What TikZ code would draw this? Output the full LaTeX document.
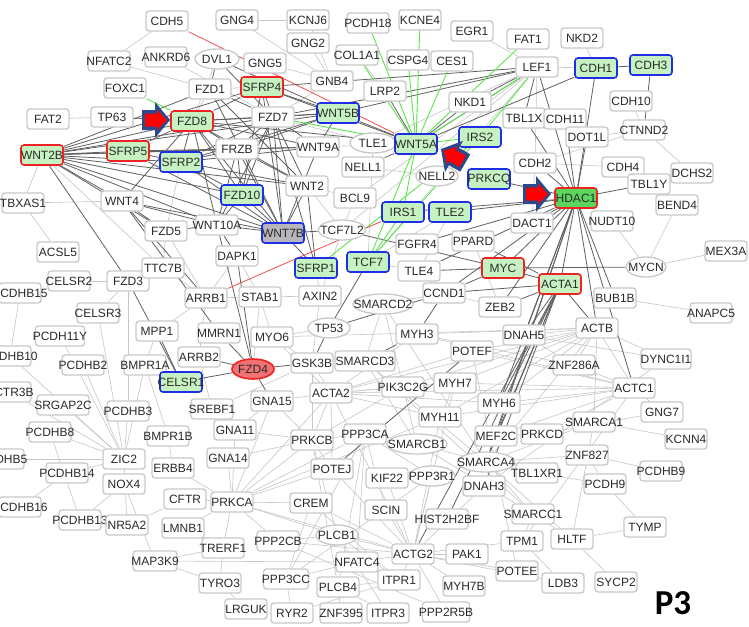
\documentclass[tikz,border=0pt]{standalone}
\usepackage{fontspec}
\setmainfont{Liberation Sans}
\newfontfamily\pfont{Carlito}
\usetikzlibrary{shapes.geometric}
\definecolor{nbord}{HTML}{C8C8C8}
\definecolor{ltxt}{HTML}{2A2A2A}
\definecolor{hgreen}{HTML}{C6F2C2}
\definecolor{hred}{HTML}{EE2222}
\definecolor{hblue}{HTML}{1E2EE6}
\definecolor{hdacg}{HTML}{5CD65C}
\definecolor{wgray}{HTML}{B6B6BC}
\definecolor{fzred}{HTML}{F07272}
\definecolor{elight}{HTML}{C6C6C6}
\definecolor{edark}{HTML}{606060}
\definecolor{egreen}{HTML}{5BE64A}
\definecolor{ered}{HTML}{F25050}
\definecolor{arblue}{HTML}{2B4A8E}
\definecolor{arred}{HTML}{FF0000}
\pgfdeclarelayer{bg}
\pgfsetlayers{bg,main}
\newcommand\gtx[1]{\makebox[0pt]{#1}}
\newcommand\pointer[3]{%
  \begin{scope}[shift={(#1,#2)},rotate=#3]
    \fill[arblue] (0,0) -- (-15,-18) -- (-15,-10) -- (-28,-10) -- (-28,10) -- (-15,10) -- (-15,18) -- cycle;
    \fill[arred] (-3,0) -- (-13,-10) -- (-13,-6.5) -- (-25,-6.5) -- (-25,6.5) -- (-13,6.5) -- (-13,10) -- cycle;
  \end{scope}}
\tikzset{
  nb/.style={draw=nbord, line width=1.3pt, rounded corners=3pt, fill=white,
    minimum width=42pt, minimum height=20pt, inner sep=0pt, text=ltxt,
    font=\fontsize{12}{12}\selectfont},
  ne/.style={nb, ellipse, sharp corners, minimum width=44pt},
  hr/.style={nb, draw=hred, fill=hgreen, line width=1.6pt},
  hb/.style={nb, draw=hblue, fill=hgreen, line width=1.6pt},
  le/.style={draw=elight, line width=0.6pt},
  de/.style={draw=edark, line width=0.8pt},
  ge/.style={draw=egreen, line width=0.9pt},
  re/.style={draw=ered, line width=0.8pt}
}
\begin{document}
\begin{tikzpicture}[x=1pt,y=-1pt]
\begin{pgfonlayer}{bg}
\fill[white] (0,0) rectangle (749,626);
\end{pgfonlayer}
\useasboundingbox (0,0) rectangle (749,626);
% ---------- nodes ----------
\node[nb] (CDH5) at (167,21) {\gtx{CDH5}};
\node[nb] (GNG4) at (237,20) {\gtx{GNG4}};
\node[nb] (KCNJ6) at (308,20) {\gtx{KCNJ6}};
\node[nb] (PCDH18) at (368,23) {\gtx{PCDH18}};
\node[nb] (KCNE4) at (420,20) {\gtx{KCNE4}};
\node[nb] (EGR1) at (472,31) {\gtx{EGR1}};
\node[nb] (FAT1) at (528,39) {\gtx{FAT1}};
\node[nb] (NKD2) at (582,38) {\gtx{NKD2}};
\node[nb] (NFATC2) at (109,61) {\gtx{NFATC2}};
\node[nb] (ANKRD6) at (166,57) {\gtx{ANKRD6}};
\node[ne] (DVL1) at (217,59) {\gtx{DVL1}};
\node[nb] (GNG5) at (265,63) {\gtx{GNG5}};
\node[nb] (GNG2) at (308,43) {\gtx{GNG2}};
\node[nb] (COL1A1) at (357,55) {\gtx{COL1A1}};
\node[nb] (CSPG4) at (408,60) {\gtx{CSPG4}};
\node[nb] (CES1) at (452,61) {\gtx{CES1}};
\node[nb] (LEF1) at (537,67) {\gtx{LEF1}};
\node[hb] (CDH1) at (596,68) {\gtx{CDH1}};
\node[hb] (CDH3) at (651,65) {\gtx{CDH3}};
\node[nb] (FOXC1) at (125,88) {\gtx{FOXC1}};
\node[nb] (FZD1) at (210,89) {\gtx{FZD1}};
\node[hr] (SFRP4) at (262,87) {\gtx{SFRP4}};
\node[nb] (GNB4) at (332,81) {\gtx{GNB4}};
\node[nb] (LRP2) at (385,91) {\gtx{LRP2}};
\node[nb] (NKD1) at (470,102) {\gtx{NKD1}};
\node[nb] (CDH10) at (631,101) {\gtx{CDH10}};
\node[nb] (FAT2) at (48,119) {\gtx{FAT2}};
\node[nb] (TP63) at (112,117) {\gtx{TP63}};
\node[hr] (FZD8) at (192,121) {\gtx{FZD8}};
\node[nb] (FZD7) at (273,117) {\gtx{FZD7}};
\node[hb] (WNT5B) at (338,113) {\gtx{WNT5B}};
\node[nb] (TBL1X) at (524,118) {\gtx{TBL1X}};
\node[nb] (CDH11) at (565,119) {\gtx{CDH11}};
\node[nb] (CTNND2) at (644,130) {\gtx{CTNND2}};
\node[ne, minimum width=46pt] (TLE1) at (373,143) {\gtx{TLE1}};
\node[hb] (WNT5A) at (416,144) {\gtx{WNT5A}};
\node[hb] (IRS2) at (480,137) {\gtx{IRS2}};
\node[nb] (DOT1L) at (587,137) {\gtx{DOT1L}};
\node[hr] (WNT2B) at (42,155) {\gtx{WNT2B}};
\node[hr] (SFRP5) at (128,151) {\gtx{SFRP5}};
\node[nb] (FRZB) at (237,149) {\gtx{FRZB}};
\node[nb] (WNT9A) at (318,147) {\gtx{WNT9A}};
\node[hb] (SFRP2) at (181,162) {\gtx{SFRP2}};
\node[nb] (NELL1) at (363,167) {\gtx{NELL1}};
\node[ne, minimum width=42pt] (NELL2) at (437,176) {\gtx{NELL2}};
\node[nb] (CDH2) at (535,163) {\gtx{CDH2}};
\node[nb] (CDH4) at (623,167) {\gtx{CDH4}};
\node[nb] (DCHS2) at (692,173) {\gtx{DCHS2}};
\node[hb] (PRKCQ) at (489,179) {\gtx{PRKCQ}};
\node[nb] (TBL1Y) at (649,184) {\gtx{TBL1Y}};
\node[nb] (WNT2) at (307,186) {\gtx{WNT2}};
\node[hb] (FZD10) at (242,195) {\gtx{FZD10}};
\node[nb] (BCL9) at (355,198) {\gtx{BCL9}};
\node[hr, fill=hdacg] (HDAC1) at (576,198) {\gtx{HDAC1}};
\node[nb] (WNT4) at (122,201) {\gtx{WNT4}};
\node[nb] (TBXAS1) at (23,203) {\gtx{TBXAS1}};
\node[nb] (BEND4) at (677,205) {\gtx{BEND4}};
\node[hb] (IRS1) at (403,212) {\gtx{IRS1}};
\node[hb] (TLE2) at (450,212) {\gtx{TLE2}};
\node[nb] (NUDT10) at (612,221) {\gtx{NUDT10}};
\node[nb] (DACT1) at (532,223) {\gtx{DACT1}};
\node[nb] (WNT10A) at (217,225) {\gtx{WNT10A}};
\node[nb] (FZD5) at (166,231) {\gtx{FZD5}};
\node[hb, fill=wgray] (WNT7B) at (283,233) {\gtx{WNT7B}};
\node[ne, minimum width=47pt] (TCF7L2) at (342,230) {\gtx{TCF7L2}};
\node[nb] (FGFR4) at (417,244) {\gtx{FGFR4}};
\node[nb] (PPARD) at (473,241) {\gtx{PPARD}};
\node[nb] (MEX3A) at (726,251) {\gtx{MEX3A}};
\node[nb] (ACSL5) at (58,252) {\gtx{ACSL5}};
\node[nb] (DAPK1) at (237,256) {\gtx{DAPK1}};
\node[hb] (SFRP1) at (316,268) {\gtx{SFRP1}};
\node[hb] (TCF7) at (368,262) {\gtx{TCF7}};
\node[nb] (TLE4) at (419,271) {\gtx{TLE4}};
\node[hr] (MYC) at (503,268) {\gtx{MYC}};
\node[ne, minimum width=40pt] (MYCN) at (646,267) {\gtx{MYCN}};
\node[nb] (CELSR2) at (69,281) {\gtx{CELSR2}};
\node[nb] (FZD3) at (128,281) {\gtx{FZD3}};
\node[nb] (TTC7B) at (163,268) {\gtx{TTC7B}};
\node[hr] (ACTA1) at (560,284) {\gtx{ACTA1}};
\node[nb] (PCDHB15) at (20,293) {\gtx{PCDHB15}};
\node[nb] (ARRB1) at (206,298) {\gtx{ARRB1}};
\node[nb] (STAB1) at (260,297) {\gtx{STAB1}};
\node[nb] (AXIN2) at (320,296) {\gtx{AXIN2}};
\node[nb] (CCND1) at (444,293) {\gtx{CCND1}};
\node[nb] (BUB1B) at (615,298) {\gtx{BUB1B}};
\node[ne, minimum width=60pt] (SMARCD2) at (383,304) {\gtx{SMARCD2}};
\node[nb] (ZEB2) at (500,307) {\gtx{ZEB2}};
\node[nb] (ANAPC5) at (711,313) {\gtx{ANAPC5}};
\node[nb] (CELSR3) at (98,313) {\gtx{CELSR3}};
\node[ne, minimum width=42pt] (TP53) at (329,328) {\gtx{TP53}};
\node[nb] (MPP1) at (157,331) {\gtx{MPP1}};
\node[nb] (MMRN1) at (219,333) {\gtx{MMRN1}};
\node[nb, minimum width=49pt] (PCDH11Y) at (60,336) {\gtx{PCDH11Y}};
\node[nb] (MYO6) at (272,337) {\gtx{MYO6}};
\node[nb] (MYH3) at (417,334) {\gtx{MYH3}};
\node[nb] (DNAH5) at (524,335) {\gtx{DNAH5}};
\node[nb] (ACTB) at (597,328) {\gtx{ACTB}};
\node[nb] (POTEF) at (472,351) {\gtx{POTEF}};
\node[nb] (PCDHB10) at (10,356) {\gtx{PCDHB10}};
\node[nb] (ARRB2) at (199,357) {\gtx{ARRB2}};
\node[nb, minimum width=50pt] (DYNC1I1) at (666,359) {\gtx{DYNC1I1}};
\node[nb] (GSK3B) at (312,363) {\gtx{GSK3B}};
\node[nb, minimum width=60pt] (SMARCD3) at (365,361) {\gtx{SMARCD3}};
\node[nb] (ZNF286A) at (574,365) {\gtx{ZNF286A}};
\node[nb] (PCDHB2) at (83,365) {\gtx{PCDHB2}};
\node[nb] (BMPR1A) at (145,365) {\gtx{BMPR1A}};
\node[ne, draw=hred, fill=fzred, line width=1.6pt, minimum width=42pt] (FZD4) at (253,369) {\gtx{FZD4}};
\node[hb] (CELSR1) at (181,382) {\gtx{CELSR1}};
\node[nb] (PIK3C2G) at (403,387) {\gtx{PIK3C2G}};
\node[nb] (MYH7) at (455,383) {\gtx{MYH7}};
\node[nb] (ACTC1) at (634,388) {\gtx{ACTC1}};
\node[nb] (ACTR3B) at (10,392) {\gtx{ACTR3B}};
\node[nb] (ACTA2) at (331,393) {\gtx{ACTA2}};
\node[nb] (GNA15) at (272,401) {\gtx{GNA15}};
\node[nb] (MYH6) at (499,403) {\gtx{MYH6}};
\node[nb, minimum width=52pt] (SRGAP2C) at (63,405) {\gtx{SRGAP2C}};
\node[nb] (PCDHB3) at (128,411) {\gtx{PCDHB3}};
\node[nb] (SREBF1) at (212,409) {\gtx{SREBF1}};
\node[nb] (GNG7) at (662,412) {\gtx{GNG7}};
\node[nb] (MYH11) at (440,417) {\gtx{MYH11}};
\node[nb] (SMARCA1) at (594,422) {\gtx{SMARCA1}};
\node[nb] (GNA11) at (235,430) {\gtx{GNA11}};
\node[nb] (PCDHB8) at (50,432) {\gtx{PCDHB8}};
\node[nb] (BMPR1B) at (168,436) {\gtx{BMPR1B}};
\node[nb] (PRKCB) at (312,440) {\gtx{PRKCB}};
\node[nb] (PPP3CA) at (365,434) {\gtx{PPP3CA}};
\node[nb] (MEF2C) at (496,436) {\gtx{MEF2C}};
\node[nb] (PRKCD) at (542,434) {\gtx{PRKCD}};
\node[nb] (KCNN4) at (686,439) {\gtx{KCNN4}};
\node[ne, minimum width=60pt] (SMARCB1) at (417,444) {\gtx{SMARCB1}};
\node[nb] (ZNF827) at (587,455) {\gtx{ZNF827}};
\node[nb] (PCDHB5) at (3,459) {\gtx{PCDHB5}};
\node[nb] (ZIC2) at (124,459) {\gtx{ZIC2}};
\node[nb] (GNA14) at (228,458) {\gtx{GNA14}};
\node[ne, minimum width=57pt] (SMARCA4) at (486,462) {\gtx{SMARCA4}};
\node[nb] (ERBB4) at (173,468) {\gtx{ERBB4}};
\node[nb] (POTEJ) at (332,469) {\gtx{POTEJ}};
\node[nb] (PCDHB14) at (67,473) {\gtx{PCDHB14}};
\node[nb] (TBL1XR1) at (537,473) {\gtx{TBL1XR1}};
\node[nb] (PCDHB9) at (661,471) {\gtx{PCDHB9}};
\node[ne, minimum width=46pt] (PPP3R1) at (432,476) {\gtx{PPP3R1}};
\node[nb] (KIF22) at (387,478) {\gtx{KIF22}};
\node[nb] (NOX4) at (124,484) {\gtx{NOX4}};
\node[nb] (PCDH9) at (605,484) {\gtx{PCDH9}};
\node[nb] (DNAH3) at (484,486) {\gtx{DNAH3}};
\node[nb] (CFTR) at (185,499) {\gtx{CFTR}};
\node[nb] (PRKCA) at (232,502) {\gtx{PRKCA}};
\node[nb] (CREM) at (311,503) {\gtx{CREM}};
\node[nb] (PCDHB16) at (20,507) {\gtx{PCDHB16}};
\node[nb] (SCIN) at (386,510) {\gtx{SCIN}};
\node[nb] (SMARCC1) at (533,514) {\gtx{SMARCC1}};
\node[nb] (HIST2H2BF) at (447,519) {\gtx{HIST2H2BF}};
\node[nb] (PCDHB13) at (80,520) {\gtx{PCDHB13}};
\node[nb] (NR5A2) at (127,525) {\gtx{NR5A2}};
\node[nb] (TYMP) at (645,527) {\gtx{TYMP}};
\node[nb] (LMNB1) at (183,528) {\gtx{LMNB1}};
\node[ne, minimum width=42pt] (PLCB1) at (337,535) {\gtx{PLCB1}};
\node[nb] (PPP2CB) at (278,541) {\gtx{PPP2CB}};
\node[nb] (HLTF) at (572,539) {\gtx{HLTF}};
\node[nb] (TPM1) at (522,541) {\gtx{TPM1}};
\node[nb] (TRERF1) at (223,548) {\gtx{TRERF1}};
\node[nb] (ACTG2) at (413,554) {\gtx{ACTG2}};
\node[nb] (PAK1) at (467,554) {\gtx{PAK1}};
\node[nb, minimum width=44pt] (MAP3K9) at (155,561) {\gtx{MAP3K9}};
\node[nb] (NFATC4) at (357,562) {\gtx{NFATC4}};
\node[nb] (POTEE) at (517,571) {\gtx{POTEE}};
\node[nb, minimum width=45pt] (PPP3CC) at (286,579) {\gtx{PPP3CC}};
\node[nb] (ITPR1) at (399,580) {\gtx{ITPR1}};
\node[nb] (TYRO3) at (220,583) {\gtx{TYRO3}};
\node[nb] (PLCB4) at (338,587) {\gtx{PLCB4}};
\node[nb] (MYH7B) at (464,586) {\gtx{MYH7B}};
\node[nb] (LDB3) at (563,583) {\gtx{LDB3}};
\node[nb] (SYCP2) at (616,582) {\gtx{SYCP2}};
\node[nb] (LRGUK) at (246,609) {\gtx{LRGUK}};
\node[nb] (RYR2) at (292,613) {\gtx{RYR2}};
\node[nb] (ZNF395) at (341,613) {\gtx{ZNF395}};
\node[nb] (ITPR3) at (388,613) {\gtx{ITPR3}};
\node[nb, minimum width=47pt] (PPP2R5B) at (446,612) {\gtx{PPP2R5B}};
\node[font=\pfont\bfseries\fontsize{35}{35}\selectfont, text=black, inner sep=0pt] (p3) at (673,603) {P3};
% ---------- pointers ----------
\pointer{170}{120}{0}
\pointer{551}{194}{0}
\pointer{441}{149}{150}
% ---------- edges ----------
\begin{pgfonlayer}{bg}
\foreach \a/\b in {CDH5/NFATC2,NFATC2/FZD1,FAT2/TP63,GNG4/KCNJ6,GNG4/GNB4,GNG2/GNB4,GNG5/GNB4,KCNJ6/GNB4,
COL1A1/LRP2,EGR1/LEF1,NKD2/CDH1,LEF1/CDH1,LEF1/CDH2,CDH10/CTNND2,CTNND2/DCHS2,CTNND2/DOT1L,CDH2/CDH4,
CDH2/CTNND2,NUDT10/MYCN,BEND4/MYCN,MEX3A/MYCN,BUB1B/ANAPC5,ACTB/DYNC1I1,TLE1/LEF1,TLE1/TCF7,TLE1/FZD7,
BCL9/TCF7L2,BCL9/WNT2,WNT2/TCF7L2,FRZB/WNT5A,GNB4/FZD7,SFRP2/FZD5,FZD5/ARRB1,FZD5/TTC7B,WNT4/TBXAS1,
WNT2B/TBXAS1,TBXAS1/ACSL5,WNT2B/TTC7B,DAPK1/ARRB1,DAPK1/STAB1,ARRB1/STAB1,ARRB1/TTC7B,ARRB1/MPP1,
ARRB1/ARRB2,CELSR2/FZD3,FZD3/CELSR3,FZD3/PCDHB3,PCDHB15/PCDHB10,PCDH11Y/ZIC2,PCDHB2/ZIC2,SRGAP2C/ZIC2,
PCDHB3/ZIC2,BMPR1A/ZIC2,BMPR1A/BMPR1B,MPP1/BMPR1A,ZIC2/PCDHB5,ZIC2/NR5A2,PCDHB8/PCDHB13,PCDHB14/PCDHB16,
NOX4/PCDHB13,NOX4/MAP3K9,NR5A2/CFTR,ERBB4/BMPR1B,ERBB4/PRKCA,CFTR/PRKCA,LMNB1/PRKCA,MAP3K9/TRERF1,
MAP3K9/TYRO3,MAP3K9/NFATC4,TYRO3/LRGUK,TRERF1/PRKCA,SREBF1/ARRB2,SREBF1/GSK3B,GNA11/PRKCA,GNA14/PRKCA,
GNA15/PRKCA,GNA11/PRKCB,GNA14/PRKCB,GNA15/PRKCB,GNA11/GNA15,AXIN2/GSK3B,AXIN2/SFRP1,MYO6/ACTA2,MYO6/STAB1,
PRKCB/PPP3CA,PRKCB/POTEJ,PRKCB/PLCB1,PRKCB/PLCB4,PRKCB/PRKCA,PRKCB/ACTA2,PRKCB/GSK3B,PRKCA/CREM,
PRKCA/PPP2CB,PRKCA/PLCB1,PRKCA/POTEJ,PRKCA/ACTA2,PRKCA/PPP3CA,PRKCA/MYH11,PPP3CA/PPP3R1,PPP3CA/PPP3CC,
PPP3CA/NFATC4,PPP3CA/PLCB4,POTEJ/ACTG2,POTEJ/ACTA2,CREM/PPP3CC,PLCB1/ACTG2,PLCB1/ITPR1,PLCB1/ITPR3,
PLCB4/ITPR1,PLCB4/ITPR3,RYR2/ITPR1,RYR2/PPP3CC,ZNF395/PLCB4,PPP2R5B/ACTG2,PPP2R5B/PPP2CB,ACTG2/SCIN,
ACTG2/KIF22,ACTG2/PPP3R1,ACTG2/PAK1,ACTG2/POTEE,ACTG2/MYH7B,ACTG2/ITPR1,ACTG2/NFATC4,ACTG2/PPP2CB,
ACTG2/TPM1,ACTG2/LDB3,ACTG2/MYH11,ACTG2/MYH7,ACTG2/ACTA2,ACTG2/DNAH3,SCIN/PPP3CA,MYH11/ACTA2,MYH11/ACTB,
MYH11/ACTC1,MYH7/ACTC1,MYH7/ACTB,MYH3/ACTC1,MYH3/ACTB,MYH6/ACTC1,MYH6/ACTB,MYH3/ACTA2,MYH7/ACTA2,
MYH6/ACTA2,POTEF/ACTB,POTEF/ACTC1,POTEF/ACTA2,POTEE/POTEF,DNAH5/ACTB,DNAH5/DYNC1I1,DNAH3/DYNC1I1,
SMARCA4/SMARCB1,SMARCA4/SMARCC1,SMARCA4/SMARCD2,SMARCA4/SMARCD3,SMARCA4/SMARCA1,SMARCA4/HLTF,
SMARCA4/MEF2C,SMARCA4/ACTB,SMARCA4/TBL1XR1,SMARCB1/SMARCC1,SMARCB1/SMARCD3,SMARCB1/SMARCD2,
SMARCC1/SMARCD3,SMARCD2/SMARCD3,SMARCA1/KCNN4,SMARCA1/HLTF,PRKCD/MEF2C,PRKCD/ACTC1,ZNF827/PCDHB9,
ZNF827/PCDH9,PCDH9/TYMP,TYMP/HLTF,HLTF/SYCP2,HLTF/SMARCC1,TPM1/LDB3,TPM1/ACTC1,MEF2C/ACTC1,GNG7/PRKCD,
ACTC1/ZNF286A,ACTB/ZNF286A,ACTC1/ACTB,PIK3C2G/ACTB,PIK3C2G/ACTA2,PIK3C2G/PRKCB,MYH11/MYH7,MYO6/ACTB,
ZNF286A/MYH3,SMARCD3/GSK3B,KIF22/PPP3R1,PPP3R1/PPP3CC,TLE4/TLE2,TLE4/TCF7,TLE2/TCF7,NELL1/NELL2,
BCL9/LEF1,TCF7L2/LEF1,TCF7/LEF1,AXIN2/TCF7L2,STAB1/AXIN2,DACT1/CDH2,PPARD/ZEB2,ZEB2/CCND1,CCND1/TLE4,
TBL1Y/CDH4,ACTA2/ACTB,ACTA2/ACTC1,ZNF286A/DNAH5,FZD8/FZD1,FZD1/SFRP4,DVL1/FZD8,ANKRD6/FZD7,
SMARCD2/CCND1,GNG7/ACTC1,SMARCA1/ACTB,TBL1XR1/PCDH9,ZNF827/SMARCA4,SMARCC1/TPM1,CELSR3/ZIC2,
PCDHB10/ZIC2,ACTR3B/ZIC2,PCDHB14/ZIC2,PCDHB8/ZIC2,BMPR1A/CELSR1,TRERF1/TYRO3,PRKCA/ACTG2,PPP2CB/PLCB1,
CREM/ACTG2,CREM/ITPR1,NFATC4/PPP3CC,GSK3B/ACTA2,GNA15/ACTA2,STAB1/FZD4,MYO6/GSK3B,TP53/MYO6}
  \draw[le] (\a) -- (\b);
\foreach \a/\b in {WNT2B/FZD8,WNT2B/FZD1,WNT2B/SFRP4,WNT2B/FZD7,WNT2B/WNT5B,WNT2B/SFRP5,WNT2B/SFRP2,
WNT2B/FRZB,WNT2B/WNT9A,WNT2B/FZD10,WNT2B/WNT2,WNT2B/WNT7B,WNT2B/WNT4,WNT2B/WNT10A,WNT2B/FZD3,WNT2B/FZD5,
FZD8/SFRP4,FZD8/FZD7,FZD8/WNT5B,FZD8/FRZB,FZD8/WNT9A,FZD8/SFRP2,FZD8/SFRP5,FZD8/FZD10,FZD8/WNT2,
FZD8/WNT7B,FZD8/WNT10A,FZD8/WNT4,FZD8/WNT5A,FZD8/TP63,FZD1/FZD7,FZD1/WNT7B,FZD1/DVL1,FZD1/WNT2,
DVL1/FZD7,DVL1/WNT5B,SFRP4/FZD7,SFRP4/WNT5B,SFRP4/WNT7B,SFRP4/FZD10,SFRP4/WNT5A,SFRP4/LEF1,
FZD7/WNT5B,FZD7/FRZB,FZD7/WNT9A,FZD7/WNT2,FZD7/FZD10,FZD7/WNT7B,FZD7/SFRP1,FZD7/WNT10A,FZD7/SFRP2,
FZD7/LEF1,WNT5B/WNT5A,WNT5B/FRZB,WNT5B/WNT9A,WNT5B/SFRP2,FRZB/WNT9A,FRZB/WNT2,FRZB/FZD10,FRZB/WNT7B,
FRZB/WNT10A,FRZB/SFRP2,WNT9A/WNT7B,WNT9A/SFRP2,WNT2/WNT7B,WNT2/SFRP2,WNT2/SFRP1,FZD10/WNT7B,
FZD10/WNT10A,FZD10/SFRP2,WNT10A/WNT7B,WNT10A/DAPK1,WNT10A/FZD5,WNT10A/WNT4,WNT7B/SFRP1,WNT7B/TCF7L2,
WNT7B/WNT4,WNT7B/SFRP2,WNT7B/SFRP5,SFRP5/SFRP2,SFRP5/FRZB,WNT4/FZD5,WNT4/ARRB1,WNT4/MMRN1,
LEF1/NKD1,LEF1/TBL1X,LEF1/HDAC1,LEF1/WNT5B,LEF1/WNT5A,WNT5A/NKD1,WNT5A/LRP2,WNT5A/NELL1,WNT5A/CDH1,
CDH1/CDH3,CDH1/HDAC1,CDH3/CTNND2,HDAC1/TBL1X,HDAC1/CDH11,HDAC1/DOT1L,HDAC1/CDH2,HDAC1/TBL1Y,
HDAC1/DACT1,HDAC1/TLE2,HDAC1/IRS1,HDAC1/MYC,HDAC1/ACTA1,HDAC1/ZEB2,HDAC1/CCND1,HDAC1/FGFR4,
HDAC1/TLE4,HDAC1/DNAH5,HDAC1/MYH6,HDAC1/ACTB,HDAC1/ACTC1,HDAC1/MEF2C,HDAC1/SMARCA4,HDAC1/PRKCQ,
HDAC1/BUB1B,ACTA1/MYC,ACTA1/ZEB2,ACTA1/CCND1,ACTA1/DNAH5,ACTA1/MYH6,ACTA1/MEF2C,ACTA1/SMARCA4,
ACTA1/HIST2H2BF,ACTA1/ACTG2,ACTA1/ACTB,ACTA1/PPARD,ACTA1/DNAH3,MYC/MYCN,MYC/CCND1,MYC/TLE4,
MYC/TCF7L2,TP53/TCF7,TP53/GSK3B,TP53/CCND1,FZD4/GSK3B,FZD4/DAPK1,FZD4/MMRN1,FZD4/ARRB2,FZD4/CELSR1,
FZD4/GNA15,FZD4/WNT10A,FZD3/CELSR1,FZD3/TTC7B,MPP1/CELSR1,MYH3/CCND1,MYH3/SMARCD3,POTEF/POTEJ}
  \draw[de] (\a) -- (\b);
\foreach \a/\b in {WNT5A/PCDH18,WNT5A/KCNE4,WNT5A/COL1A1,WNT5A/CSPG4,WNT5A/CES1,WNT5A/FAT1,WNT5A/LEF1,
WNT5A/FZD7,WNT5A/IRS2,WNT5A/IRS1,WNT5A/TCF7,IRS1/TCF7,SFRP1/IRS2,TCF7/IRS2,LEF1/IRS2,FOXC1/FZD8}
  \draw[ge] (\a) -- (\b);
\foreach \a/\b in {CDH5/WNT5A,ARRB1/IRS1}
  \draw[re] (\a) -- (\b);
\end{pgfonlayer}
\end{tikzpicture}
\end{document}
